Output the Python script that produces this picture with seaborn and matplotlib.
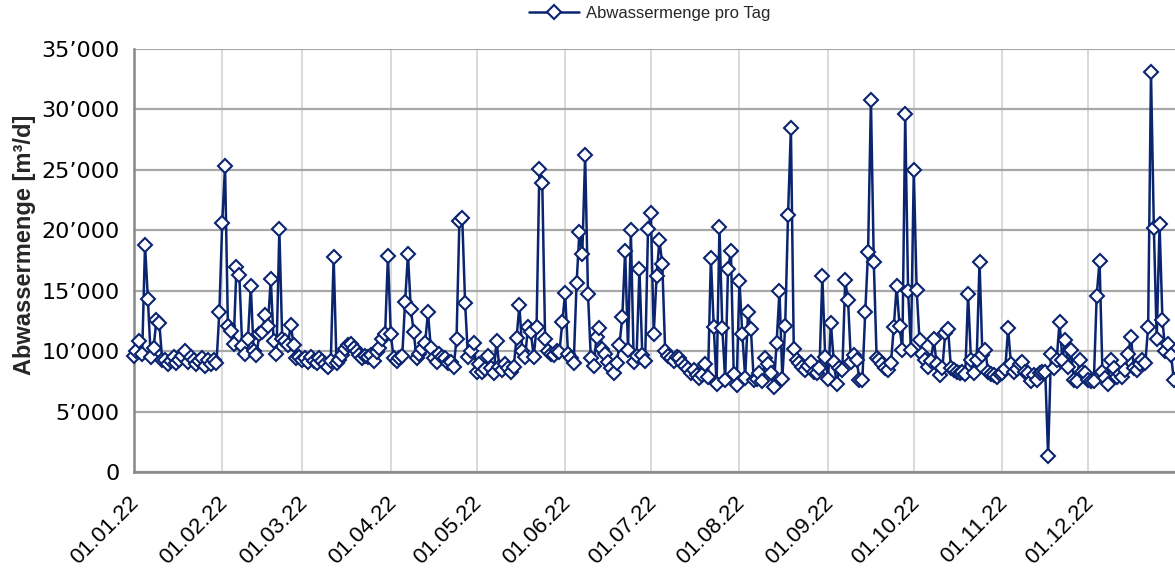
import numpy as np
import pandas as pd
import seaborn as sns
import matplotlib.pyplot as plt
import matplotlib.dates as mdates
from matplotlib.ticker import FuncFormatter, MultipleLocator
from matplotlib.transforms import ScaledTranslation

# daily waste water volume [m3/d], one list per month
jan = [9600, 10000, 10800, 9800, 18800, 14300, 9500, 10300, 12600, 12300,
       9300, 9300, 8900, 9200, 9500, 9000, 9300, 9600, 10000, 9100,
       9500, 9300, 8900, 9200, 9400, 8800, 9300, 8900, 9300, 9000, 13200]
feb = [20600, 25300, 12100, 11700, 10600, 17000, 16300, 10400, 9800,
       11000, 15400, 10000, 9700, 11400, 11600, 13000, 12100, 16000, 10800,
       9800, 20100, 11000, 10800, 10500, 12200, 10500, 9400, 9500]
mar = [9300,
       9400, 9100, 9500, 9200, 9000, 9400, 9200, 8900, 8700, 9200,
       17800, 9000, 9300, 9700, 10200, 10500, 10600, 10300, 10000, 9700,
       9400, 9600, 9500, 9700, 9200, 9900, 10300, 11000, 11400, 17900]
apr = [11400, 9400, 9200, 9400, 9600, 14100, 18000, 13500, 11600, 9400,
       9800, 10200, 10700, 13200, 10300, 9400, 9100, 9800, 9500, 9400,
       9000, 9100, 8700, 11000, 20800, 21000, 14000, 9500, 10000, 10700]
may = [8300, 8900, 8300, 8500, 9600, 8600, 8200, 10800, 8700, 8400,
       8900, 8600, 8300, 8700, 11100, 13800, 10000, 9500, 12000, 11600,
       9500, 12000, 25100, 23900, 11000, 10000, 9800, 9700, 10000, 9900,
       12400]
jun = [14800, 9800, 9400, 9000, 15600, 19900, 18000, 26200, 14700,
       9400, 8800, 11200, 11900, 10200, 9800, 9100, 8600, 8200, 9000,
       10500, 12800, 18300, 10100, 20000, 9100, 9600, 16800, 9700, 9200,
       20100]
jul = [21400, 11400, 16200, 19200, 17200, 10000, 9600, 9400, 9200,
       9500, 9400, 9000, 8800, 8500, 8200, 8400, 8000, 7800, 8000,
       8900, 7900, 17700, 12000, 7300, 20300, 11900, 7600, 16800, 18300,
       8100, 7200]
aug = [15800, 11400, 7800, 13200, 11800, 7600, 7700, 8200,
       7500, 9400, 8900, 8200, 7000, 10700, 15000, 7700, 12100, 21300,
       28500, 10200, 9300, 9000, 8700, 8400, 8800, 9100, 8300, 8200,
       8600, 16200, 9500]
sep = [7700, 12300, 9100, 7300, 8600, 8400, 15900,
       14200, 9100, 9700, 9300, 7600, 7600, 13200, 18200, 30800, 17400,
       9400, 9300, 8900, 8600, 8400, 9000, 12000, 15400, 12100, 10100,
       29600, 15000, 10100]
oct = [25000, 15100, 10900, 9800, 9300, 8700, 9200,
       11000, 8900, 8000, 8600, 11500, 11800, 8600, 8400, 8300, 8200,
       8300, 8100, 14700, 9300, 8200, 9300, 17400, 9700, 10100, 8300,
       8100, 8000, 7900, 8100]
nov = [8200, 8500, 11900, 8900, 8300, 8500,
       8900, 9100, 8300, 8200, 7500, 8000, 7600, 8200, 8300, 8300,
       1300, 9800, 8600, 9300, 12400, 9300, 10900, 8700, 10100, 7600,
       7500, 9300, 8300, 8200]
dec = [7600, 7500, 7500, 14600, 17500, 8300,
       7800, 7300, 9300, 8600, 7900, 8100, 7900, 8400, 9800, 11200,
       8600, 8400, 8900, 9300, 9000, 12000, 33100, 20200, 11000, 20500,
       12600, 10000, 10600, 9700, 7600]

values = jan + feb + mar + apr + may + jun + jul + aug + sep + oct + nov + dec
dates = pd.date_range("2022-01-01", "2022-12-31", freq="D")
df = pd.DataFrame({"Datum": dates, "Menge": values})

navy = "#0a2470"
sns.set_style("white")
plt.rcParams["font.family"] = ["Liberation Sans", "DejaVu Sans"]

fig = plt.figure(figsize=(11.75, 5.72), dpi=100)
ax = fig.add_axes([0.1137, 0.1748, 0.8863, 0.7395])

sns.lineplot(data=df, x="Datum", y="Menge", ax=ax, color=navy, lw=1.8,
             marker="D", markersize=7, markerfacecolor="white",
             markeredgecolor=navy, markeredgewidth=1.5, errorbar=None,
             label="Abwassermenge pro Tag", clip_on=False, zorder=3)

ax.set_ylim(0, 35000)
ax.yaxis.set_major_locator(MultipleLocator(5000))
ax.yaxis.set_major_formatter(FuncFormatter(lambda v, p: f"{v:,.0f}".replace(",", "\u2019")))
ax.set_xlim(mdates.date2num(pd.Timestamp("2022-01-01")),
            mdates.date2num(pd.Timestamp("2022-12-31")) + 0.4)
ax.xaxis.set_major_locator(mdates.MonthLocator())
ax.xaxis.set_major_formatter(mdates.DateFormatter("%d.%m.%y"))

ax.grid(axis="y", color="#a8a8a8", lw=1.6)
ax.grid(axis="x", color="#d9d9d9", lw=1.4)
for s in ["top", "right"]:
    ax.spines[s].set_visible(False)
for s in ["left", "bottom"]:
    ax.spines[s].set_color("#888888")
    ax.spines[s].set_linewidth(1.8)

ax.tick_params(axis="both", direction="out", length=5, width=1.5,
               color="#888888", labelsize=16, labelcolor="black")
ax.tick_params(axis="y", pad=5, labelfontfamily="DejaVu Sans")

# rotated date labels, nudged a bit down/left like the original
shift = ScaledTranslation(-0.05, -0.09, fig.dpi_scale_trans)
for lbl in ax.get_xticklabels():
    lbl.set_rotation(45)
    lbl.set_ha("right")
    lbl.set_va("top")
    lbl.set_rotation_mode("anchor")
    lbl.set_transform(lbl.get_transform() + shift)

ax.set_xlabel("")
ax.set_ylabel("Abwassermenge [m\u00b3/d]", fontsize=17, fontweight="bold")
ax.yaxis.set_label_coords(-0.094, 0.537)

ax.legend(loc="center", bbox_to_anchor=(0.553, 0.976), bbox_transform=fig.transFigure,
          frameon=False, fontsize=12, handlelength=3, handletextpad=0.4)

fig.savefig("out.png", dpi=100)
